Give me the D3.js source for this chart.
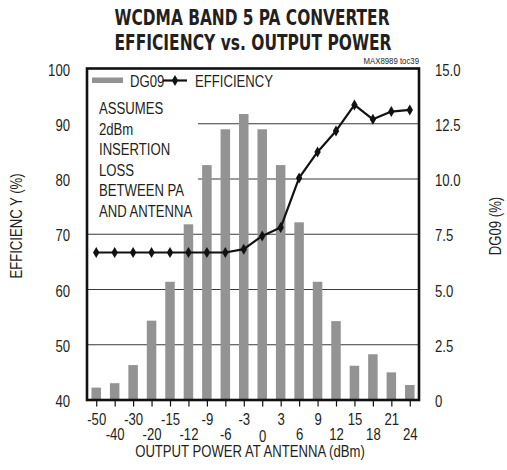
<!DOCTYPE html>
<html>
<head>
<meta charset="utf-8">
<script src="https://cdn.jsdelivr.net/npm/d3@7"></script>
<style>
  html, body { margin: 0; padding: 0; background: #fff; }
  svg { display: block; }
  text { font-family: "Liberation Sans", Arial, sans-serif; fill: #231f20; }
  .title { font-family: "DejaVu Sans Condensed", "Liberation Sans", sans-serif; font-weight: bold; }
</style>
</head>
<body>
<script>
// Output power at the antenna (dBm)
const powerLevels = [-50, -40, -30, -20, -15, -12, -9, -6, -3, 0, 3, 6, 9, 12, 15, 18, 21, 24];
// DG09 probability distribution (%), right axis
const dg09 = [0.56, 0.76, 1.58, 3.59, 5.35, 7.95, 10.63, 12.25, 12.94, 12.25, 10.63, 8.04, 5.35, 3.57, 1.55, 2.07, 1.25, 0.68];
// PA converter efficiency (%), left axis
const efficiency = [66.7, 66.7, 66.7, 66.7, 66.7, 66.7, 66.7, 66.7, 67.3, 69.7, 71.2, 80.2, 84.9, 88.7, 93.4, 90.8, 92.2, 92.5];
const leftTicks = [40, 50, 60, 70, 80, 90, 100];
const rightTicks = [0, 2.5, 5, 7.5, 10, 12.5, 15];
const noteLines = ["ASSUMES", "2dBm", "INSERTION", "LOSS", "BETWEEN PA", "AND ANTENNA"];

const W = 507, H = 470;
const plot = { left: 87, right: 419, top: 68.5, bottom: 400 };

const svg = d3.select("body").append("svg").attr("width", W).attr("height", H);

const x = d3.scalePoint().domain(powerLevels).range([plot.left, plot.right]).padding(0.5);
const yL = d3.scaleLinear().domain([40, 100]).range([plot.bottom, plot.top]);
const yR = d3.scaleLinear().domain([0, 15]).range([plot.bottom, plot.top]);
const barW = 9.5;

// Squeeze regular text horizontally to a narrow face
function narrow(sel, k = 0.82) {
  sel.each(function () {
    const w = this.getComputedTextLength();
    d3.select(this).attr("textLength", w * k).attr("lengthAdjust", "spacingAndGlyphs");
  });
}

// Title
const title = svg.append("g").attr("font-size", 21).attr("text-anchor", "middle");
title.append("text").attr("class", "title").attr("x", 252).attr("y", 25).attr("textLength", 275)
  .attr("lengthAdjust", "spacingAndGlyphs").text("WCDMA BAND 5 PA CONVERTER");
title.append("text").attr("class", "title").attr("x", 253).attr("y", 50).attr("textLength", 277)
  .attr("lengthAdjust", "spacingAndGlyphs").text("EFFICIENCY vs. OUTPUT POWER");

const tag = svg.append("text").attr("x", 419).attr("y", 64).attr("text-anchor", "end").attr("font-size", 9.5)
  .text("MAX8989 toc39");

// Horizontal gridlines (upper two stop short of the note text)
const grid = svg.append("g").attr("stroke", "#3a3a3a").attr("stroke-width", 1.1);
leftTicks.filter(v => v > 40 && v < 100).forEach(v => {
  grid.append("line")
    .attr("x1", v >= 80 ? 198 : plot.left).attr("x2", plot.right)
    .attr("y1", yL(v)).attr("y2", yL(v));
});

// DG09 bars
svg.append("g").selectAll("rect").data(powerLevels).join("rect")
  .attr("x", (d) => x(d) - barW / 2)
  .attr("width", barW)
  .attr("y", (d, i) => yR(dg09[i]))
  .attr("height", (d, i) => plot.bottom - yR(dg09[i]))
  .attr("fill", "#939393");

// Efficiency line
const line = d3.line().x((d, i) => x(powerLevels[i])).y(d => yL(d));
svg.append("path").datum(efficiency).attr("d", line)
  .attr("fill", "none").attr("stroke", "#111").attr("stroke-width", 2.2).attr("stroke-linejoin", "round");

const diamond = (cx, cy) => `M${cx},${cy - 5.5}L${cx + 3.2},${cy}L${cx},${cy + 5.5}L${cx - 3.2},${cy}Z`;
svg.append("g").selectAll("path").data(efficiency).join("path")
  .attr("d", (d, i) => diamond(x(powerLevels[i]), yL(d)))
  .attr("fill", "#111");

// Plot frame
svg.append("rect").attr("x", plot.left).attr("y", plot.top)
  .attr("width", plot.right - plot.left).attr("height", plot.bottom - plot.top)
  .attr("fill", "none").attr("stroke", "#111").attr("stroke-width", 2.6);

// Left axis labels
const axL = svg.append("g").attr("transform", `translate(${plot.left},0)`)
  .call(d3.axisLeft(yL).tickValues(leftTicks).tickSize(0).tickPadding(17).tickFormat(d3.format("d")));
axL.select(".domain").remove();
axL.selectAll("text").attr("font-size", 16).attr("font-family", null).attr("fill", "#231f20").attr("dy", "0.42em");

// Right axis labels
const axR = svg.append("g").attr("transform", `translate(${plot.right},0)`)
  .call(d3.axisRight(yR).tickValues(rightTicks).tickSize(0).tickPadding(16)
    .tickFormat(d => d === 0 ? "0" : d3.format(".1f")(d)));
axR.select(".domain").remove();
axR.selectAll("text").attr("font-size", 16).attr("font-family", null).attr("fill", "#231f20").attr("dy", "0.42em");

// Bottom axis: ticks below the frame, labels staggered on two rows
const axB = svg.append("g").attr("transform", `translate(0,${plot.bottom})`)
  .call(d3.axisBottom(x).tickSize(6.5).tickPadding(0));
axB.select(".domain").remove();
axB.selectAll(".tick line").attr("stroke", "#111").attr("stroke-width", 1.2);
axB.selectAll("text").attr("font-size", 16).attr("font-family", null).attr("fill", "#231f20")
  .attr("dy", null)
  .attr("y", (d, i) => (i % 2 === 0 ? 24.5 : 39.5) + (d === 0 ? 2 : 0));

// Axis titles
const titles = svg.append("g").attr("font-size", 16).attr("text-anchor", "middle");
titles.append("text").attr("x", 250).attr("y", 457).text("OUTPUT POWER AT ANTENNA (dBm)");
titles.append("text").attr("transform", "translate(22,226) rotate(-90)").text("EFFICIENC Y (%)");
titles.append("text").attr("transform", "translate(501,226) rotate(-90)").text("DG09 (%)");

// Legend
const lg = svg.append("g").attr("font-size", 16);
lg.append("rect").attr("x", 92).attr("y", 77.5).attr("width", 31).attr("height", 5.5).attr("fill", "#939393");
lg.append("text").attr("x", 130).attr("y", 86.5).text("DG09");
lg.append("line").attr("x1", 163).attr("x2", 187).attr("y1", 80.5).attr("y2", 80.5)
  .attr("stroke", "#111").attr("stroke-width", 2.2);
lg.append("path").attr("d", diamond(175, 80.5)).attr("fill", "#111");
lg.append("text").attr("x", 195).attr("y", 86.5).text("EFFICIENCY");

// Note on insertion loss
svg.append("g").attr("font-size", 16).selectAll("text").data(noteLines).join("text")
  .attr("x", 99).attr("y", (d, i) => 114 + i * 20.6)
  .text(d => d);

narrow(svg.selectAll("text:not(.title)"));
</script>
</body>
</html>
